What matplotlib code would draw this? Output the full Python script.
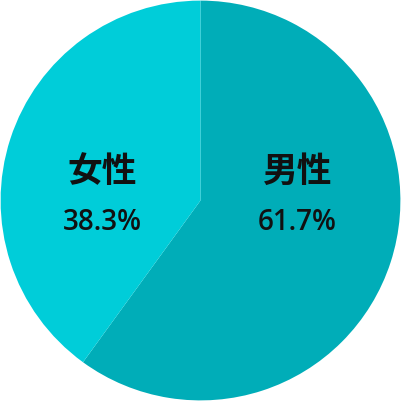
import matplotlib
matplotlib.use("Agg")
import matplotlib.pyplot as plt

labels = ["男性", "女性"]
pct_labels = ["61.7%", "38.3%"]
# slice sizes as drawn in the picture
slice_values = [60.0, 40.0]
colors = ["#00ADB8", "#00CDD9"]

plt.rcParams['font.family'] = ['Noto Sans CJK JP', 'DejaVu Sans']

fig = plt.figure(figsize=(4.01, 4.01), dpi=100)
ax = fig.add_axes([0, 0, 1, 1])
ax.pie(slice_values, colors=colors, startangle=90, counterclock=False, radius=1.0,
       wedgeprops=dict(linewidth=0))
ax.set_xlim(-1.003, 1.003)
ax.set_ylim(-1.003, 1.003)
ax.set_aspect('equal')
ax.axis('off')

pos = {"男性": (0.485, 0.1475), "女性": (-0.49, 0.1475)}
for lab, p in zip(labels, pct_labels):
    x, y = pos[lab]
    ax.text(x, y, lab, ha='center', va='center', fontsize=25, fontweight='bold', color='#111111')
    ax.text(x, y - 0.26, p, ha='center', va='center', fontsize=20,
            fontweight='semibold', family=['Open Sans', 'DejaVu Sans'], color='#111111')

fig.savefig("out.png", dpi=100)
